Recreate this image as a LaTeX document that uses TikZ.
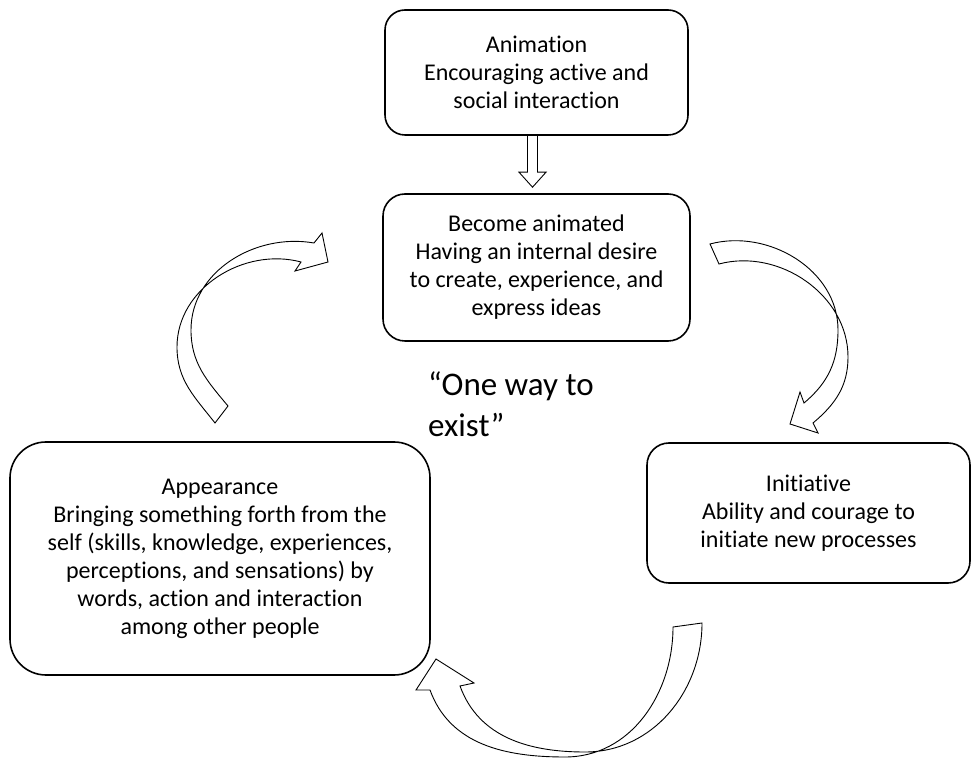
\documentclass[tikz,border=0pt]{standalone}
\usepackage{fontspec}
\setmainfont{Carlito}[Ligatures={NoCommon}]
\usetikzlibrary{calc}
\tikzset{
  stage/.style={draw, line width=1.6pt, rounded corners=#1, align=center,
    inner sep=0pt, font=\fontsize{24}{28}\selectfont},
  hollow/.style={draw, line width=0.9pt, line join=miter},
}
\begin{document}
\begin{tikzpicture}[x=1pt,y=1pt]
  \useasboundingbox (0,0) rectangle (973,760);
  \node[stage=20pt, minimum width=303pt, minimum height=125pt] (anim) at (536.5,687.5)
    {Animation\\Encouraging active and\\social interaction};
  \node[stage=22pt, minimum width=307pt, minimum height=147pt] (becm) at (536.5,492.5)
    {Become animated\\Having an internal desire\\to create, experience, and\\express ideas};
  \node[stage=36pt, minimum width=420pt, minimum height=233pt] (appr) at (220,201.5)
    {Appearance\\Bringing something forth from the\\self (skills, knowledge, experiences,\\perceptions, and sensations) by\\words, action and interaction\\among other people};
  \node[stage=22pt, minimum width=323pt, minimum height=140pt] (init) at (808.5,247)
    {Initiative\\Ability and courage to\\initiate new processes};
  \node[anchor=base west, align=left, inner sep=0pt,
    font=\fontsize{33}{41}\selectfont] (quote) at (428,323) {“One way to\\exist”};
  % down arrow
  \draw[hollow] ($(anim.south)+(-9,0)$) -- ($(becm.north)+(-9,21)$)
    -- ($(becm.north)+(-17.5,21)$) -- ($(becm.north)+(-4,6)$)
    -- ($(becm.north)+(9.5,21)$) -- ($(becm.north)+(1,21)$) -- ($(anim.south)+(1,0)$);
  % curved arrows
  \draw[hollow] (215,337) to[out=128,in=-90] (177,413) to[out=90,in=165] (301,498)
    -- (295,489) -- (328,498) -- (322,527) -- (314,517)
    to[out=170,in=90] (191,430) to[out=-90,in=130] (228,354) -- cycle;
  \draw[hollow] (710,516) to[out=15,in=90] (838,430) to[out=-90,in=40] (804,357)
    -- (800,368) -- (790,336) -- (818,327) -- (813,337)
    to[out=40,in=-90] (848,403) to[out=90,in=15] (719,496) -- cycle;
  \draw[hollow] (673,133) to[out=-90,in=0] (565,3) to[out=180,in=-70] (430,70)
    -- (416,70) -- (436,101) -- (474,77) -- (460,74)
    to[out=-70,in=180] (585,8) to[out=0,in=-90] (702,137) -- cycle;
\end{tikzpicture}
\end{document}
